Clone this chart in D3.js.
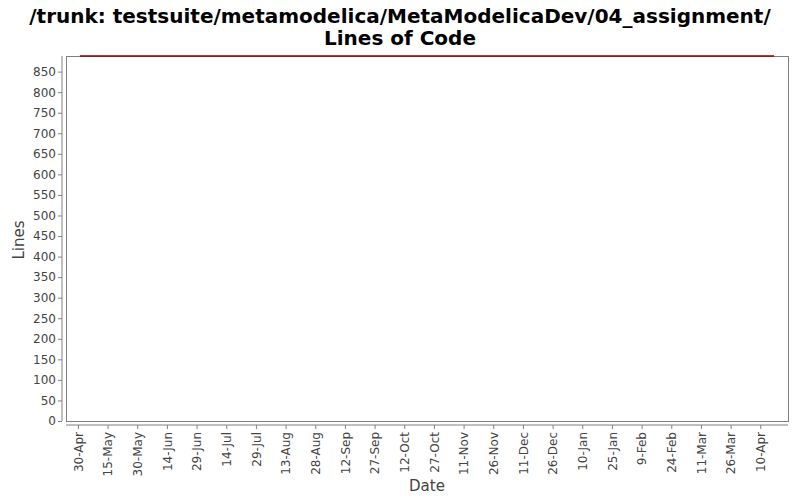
<!DOCTYPE html>
<html><head><meta charset="utf-8">
<script src="https://cdn.jsdelivr.net/npm/d3@7"></script>
<style>body{margin:0;background:#fff}svg{display:block}text{font-family:"DejaVu Sans",sans-serif}</style>
</head><body>
<script>
const titleLines = ["/trunk: testsuite/metamodelica/MetaModelicaDev/04_assignment/", "Lines of Code"];
const dates = ["2010-05-01", "2011-04-17"];
const values = [888, 888];
const yTicks = [0,50,100,150,200,250,300,350,400,450,500,550,600,650,700,750,800,850];
const xTickStart = "2010-04-30";
const xTickStepDays = 15;
const xTickCount = 24;

(function(){
const W = 800, H = 500;
const pL = 66, pR = 788, pT = 56, pB = 421;
const parse = d3.timeParse("%Y-%m-%d");
const data = dates.map((d, i) => ({date: parse(d), value: values[i]}));

const svg = d3.select("body").append("svg").attr("width", W).attr("height", H);

const t0 = data[0].date, t1 = data[data.length-1].date;
const span = t1 - t0;
const x = d3.scaleTime().domain([new Date(+t0 - span*0.02), new Date(+t1 + span*0.02)]).range([pL, pR]);
const y = d3.scaleLinear().domain([0, 888]).range([pB, pT]);

// title
svg.append("g").selectAll("text").data(titleLines).join("text")
  .attr("x", 400).attr("y", (d, i) => 23 + i*22)
  .attr("text-anchor", "middle").attr("font-size", 20).attr("font-weight", "bold").attr("fill", "#000")
  .text(d => d);

// plot frame
svg.append("rect").attr("x", pL).attr("y", pT).attr("width", pR-pL).attr("height", pB-pT)
  .attr("fill", "#fff").attr("stroke", "#808080").attr("stroke-width", 1).attr("shape-rendering", "crispEdges");

// y axis
const yAxis = d3.axisLeft(y).tickValues(yTicks).tickSize(4).tickPadding(2);
const gy = svg.append("g").attr("transform", `translate(${pL-4},0)`).call(yAxis);
gy.select(".domain").attr("stroke", "#808080").attr("d", `M0,${pT}V${pB}`);
gy.selectAll(".tick line").attr("stroke", "#808080");
gy.selectAll(".tick text").attr("font-size", 12).attr("fill", "#444").attr("font-family", "DejaVu Sans");

// x axis
const tickDates = [];
let td = parse(xTickStart);
for (let i = 0; i < xTickCount; i++) { tickDates.push(td); td = d3.timeDay.offset(td, xTickStepDays); }
const xAxis = d3.axisBottom(x).tickValues(tickDates).tickFormat(d3.timeFormat("%-d-%b")).tickSize(4).tickPadding(2);
const gx = svg.append("g").attr("transform", `translate(0,${pB+4})`).call(xAxis);
gx.select(".domain").attr("stroke", "#808080").attr("d", `M${pL},0H${pR}`);
gx.selectAll(".tick line").attr("stroke", "#808080");
gx.selectAll(".tick text").attr("font-size", 12).attr("fill", "#444").attr("font-family", "DejaVu Sans")
  .attr("transform", "rotate(-90)").attr("text-anchor", "end").attr("x", -7).attr("y", 0).attr("dy", "0.35em");

// axis labels
svg.append("text").attr("x", 427).attr("y", 491).attr("text-anchor", "middle")
  .attr("font-size", 15).attr("fill", "#444").text("Date");
svg.append("text").attr("transform", "translate(24,240) rotate(-90)").attr("text-anchor", "middle")
  .attr("font-size", 15).attr("fill", "#444").text("Lines");

// line
const line = d3.line().x(d => x(d.date)).y(d => y(d.value));
svg.append("path").datum(data).attr("d", line).attr("fill", "none").attr("stroke", "#8b0000").attr("stroke-width", 1.5);
})();
</script>
</body></html>
